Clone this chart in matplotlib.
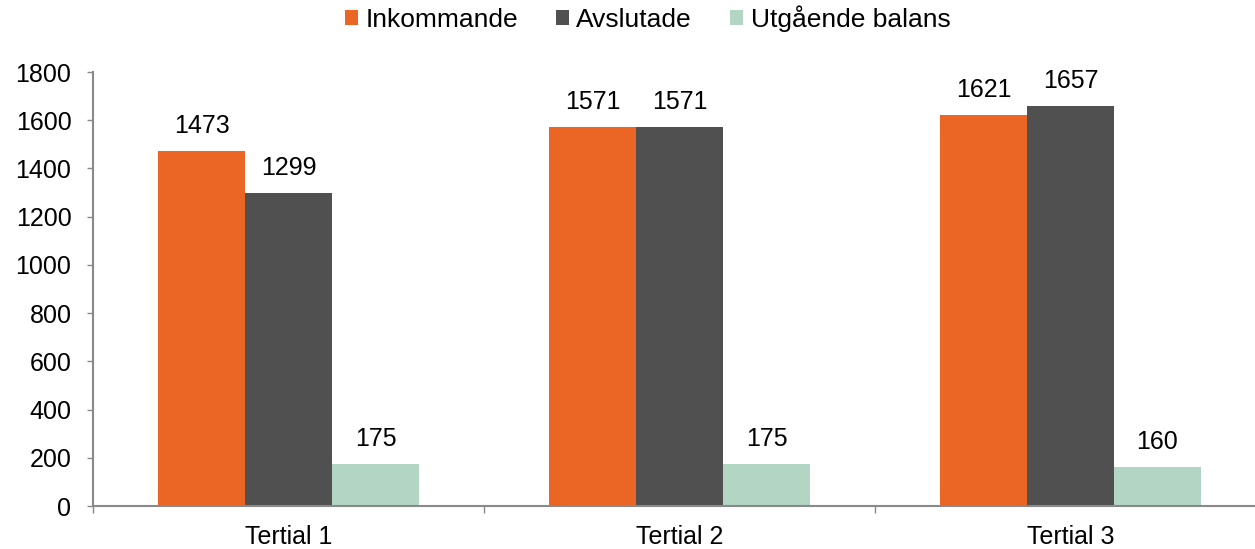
import matplotlib
matplotlib.use("Agg")
import matplotlib.pyplot as plt
import numpy as np

plt.rcParams['font.family'] = ['Liberation Sans', 'DejaVu Sans']

categories = ["Tertial 1", "Tertial 2", "Tertial 3"]
series_names = ["Inkommande", "Avslutade", "Utgående balans"]
inkommande = [1473, 1571, 1621]
avslutade = [1299, 1571, 1657]
utgaende = [175, 175, 160]
colors = ["#EB6624", "#505050", "#B3D5C4"]

fig = plt.figure(figsize=(12.55, 5.49), dpi=100)
ax = fig.add_axes([93/1255, 1 - 506/549, 1173/1255, (506-72)/549])

x = np.arange(len(categories))
w = 0.2225
for i, (vals, name, c) in enumerate(zip([inkommande, avslutade, utgaende], series_names, colors)):
    pos = x + (i - 1) * w
    bars = ax.bar(pos, vals, width=w, color=c, label=name)
    for b, v in zip(bars, vals):
        ax.annotate(str(v), (b.get_x() + b.get_width()/2, v), xytext=(0, 9.5),
                    textcoords="offset points", ha="center", va="bottom", fontsize=18)

ax.set_xlim(-0.5, 2.5)
ax.set_ylim(0, 1800)
ax.set_yticks(range(0, 1801, 200))
ax.tick_params(axis='y', labelsize=18, length=4.5, color="#898989", width=1, pad=11)
ax.set_xticks([-0.5, 0.5, 1.5, 2.5])
ax.set_xticklabels([])
ax.set_xticks(x, minor=True)
ax.set_xticklabels(categories, minor=True)
ax.tick_params(axis='x', which='major', length=5, color="#898989", width=1)
ax.tick_params(axis='x', which='minor', length=0, labelsize=18, pad=14)
for s in ['top', 'right']:
    ax.spines[s].set_visible(False)
for s in ['left', 'bottom']:
    ax.spines[s].set_color("#898989")
    ax.spines[s].set_linewidth(1.5)

fig.legend(loc="upper center", bbox_to_anchor=(0.516, 1.033), ncol=3, frameon=False,
           fontsize=19, handlelength=0.5, handleheight=0.5, handletextpad=0.27, columnspacing=1.45)

fig.savefig("out.png", dpi=100)
